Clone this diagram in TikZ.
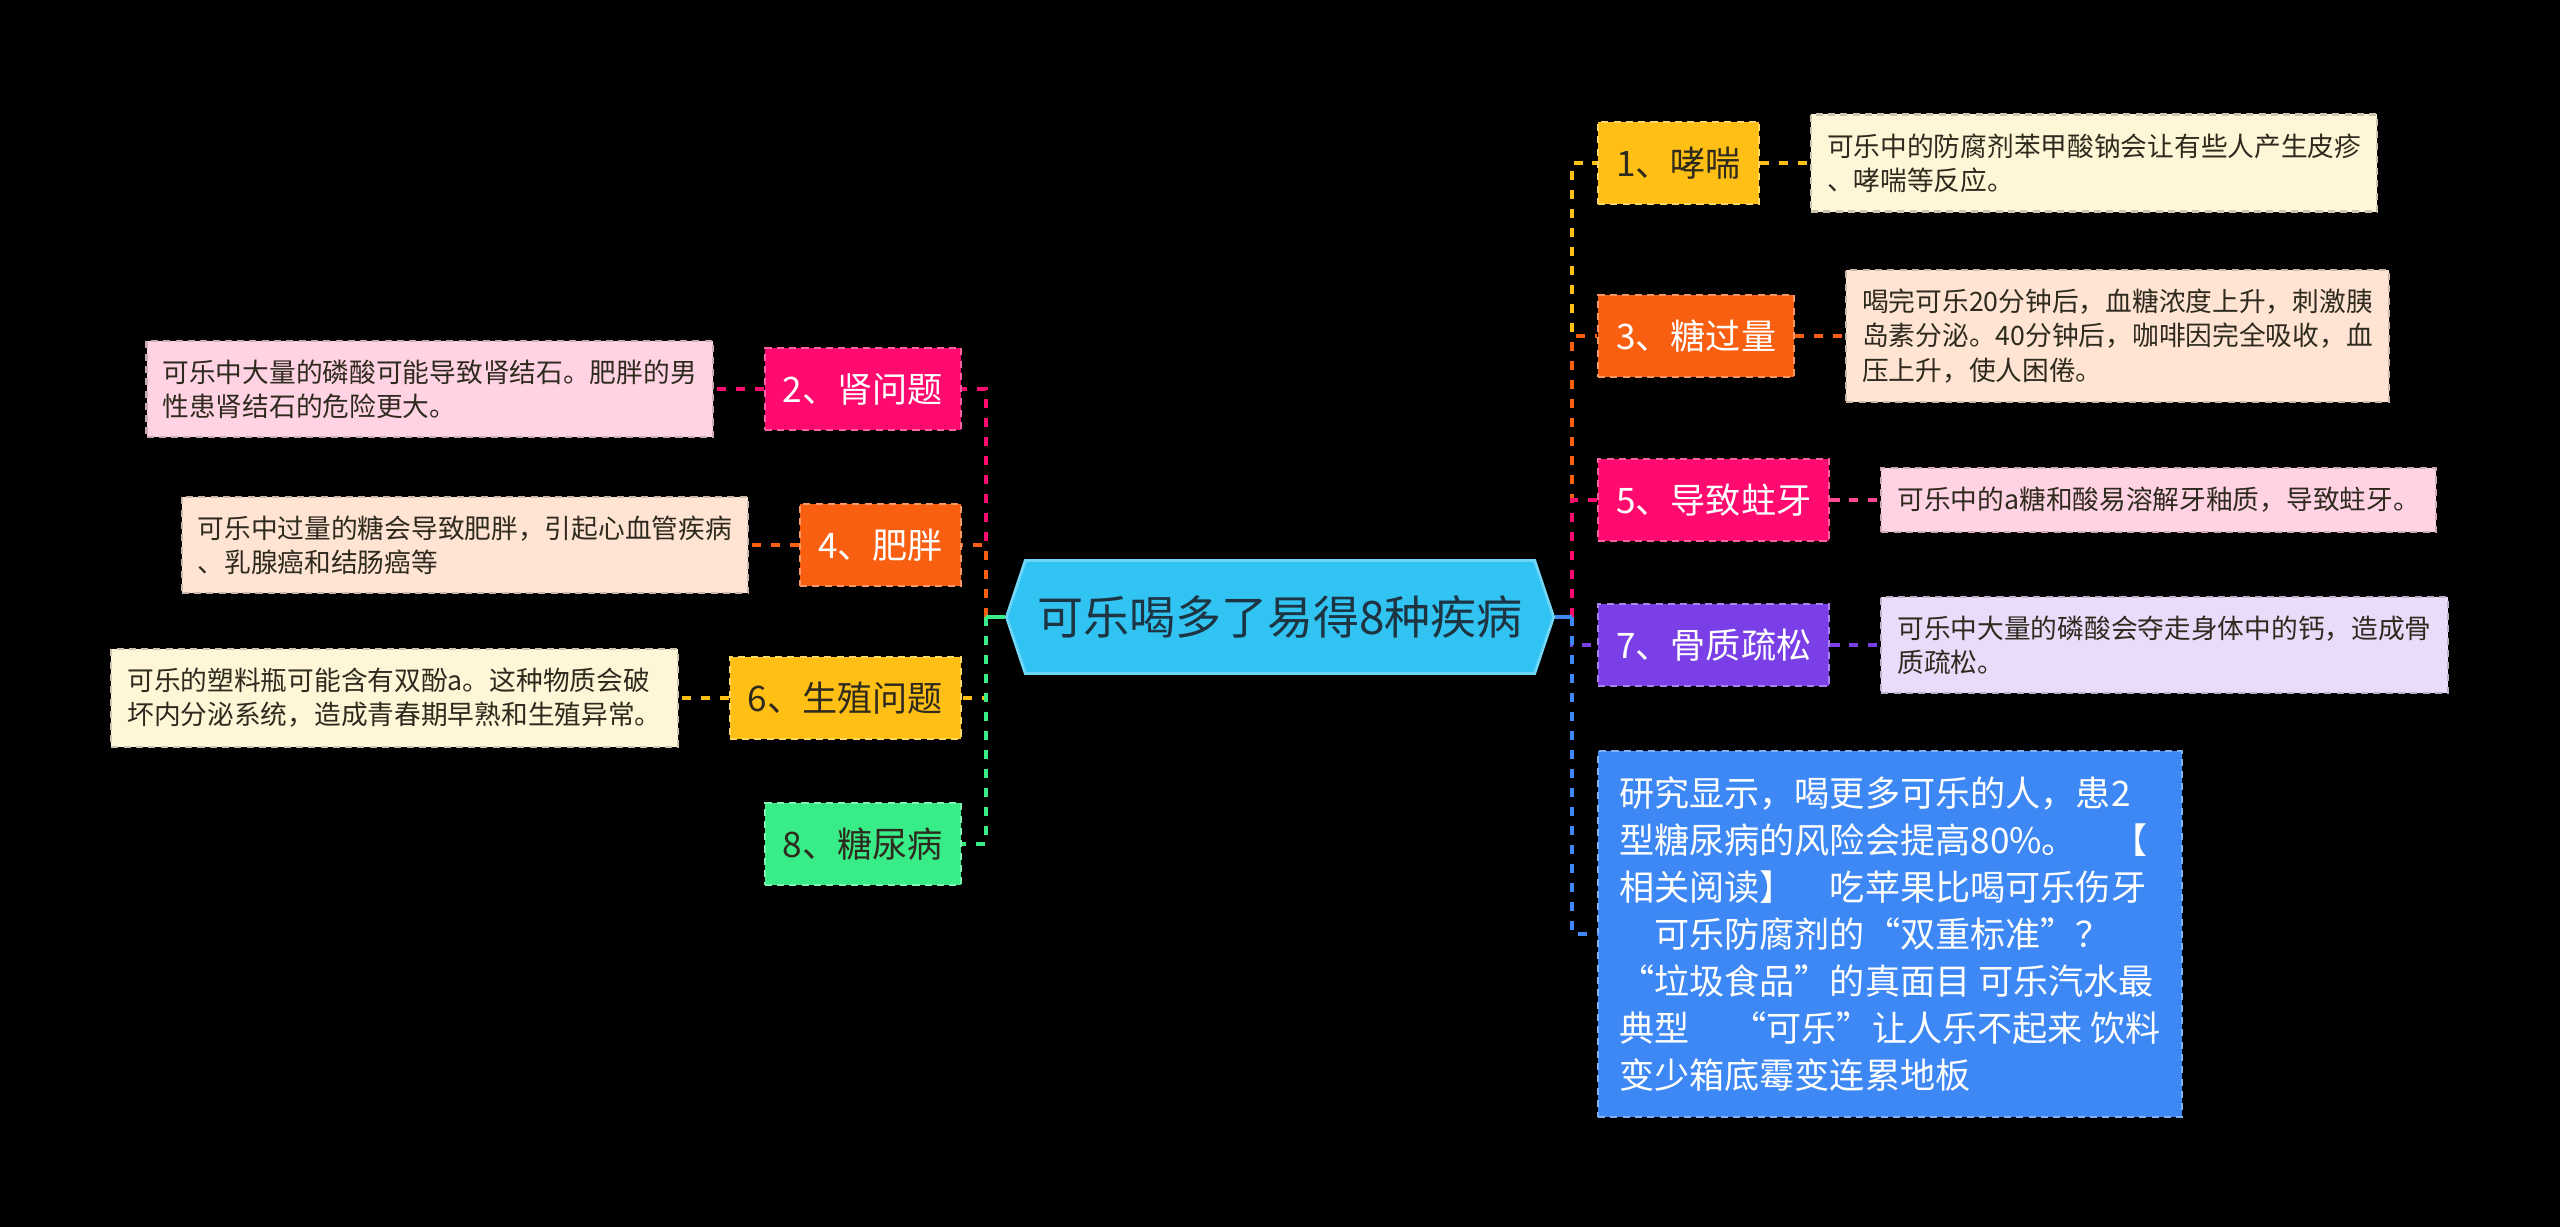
\documentclass[tikz,border=0pt]{standalone}
\usepackage{fontspec}
\setmainfont{Noto Sans CJK SC}
\usepackage{xcolor}
\usetikzlibrary{positioning, shapes.symbols}

\definecolor{rootcyan}{HTML}{31C4F3}
\definecolor{rootink}{HTML}{1D3442}
\definecolor{amber}{HTML}{FFBF14}
\definecolor{orange}{HTML}{F95F10}
\definecolor{rose}{HTML}{FF0A6E}
\definecolor{violet}{HTML}{7A3FE6}
\definecolor{bigblue}{HTML}{3D88F5}
\definecolor{mint}{HTML}{38EC88}
\definecolor{cream}{HTML}{FFF5D7}
\definecolor{peach}{HTML}{FFE4D4}
\definecolor{blush}{HTML}{FFD3E3}
\definecolor{lilac}{HTML}{E8DCFA}
\definecolor{darkink}{HTML}{2E2A1E}

\begin{document}
\begin{tikzpicture}[node distance=0.5cm,
cat/.style={rectangle, fill=#1, draw=#1!65!white, dash pattern=on 2pt off 1.5pt, line width=0.6pt, minimum height=0.82cm, inner xsep=0.18cm, font=\fontsize{10}{12}\selectfont},
desc/.style={rectangle, fill=#1, draw=#1!80!black, dash pattern=on 2pt off 1.5pt, line width=0.6pt, align=left, inner xsep=0.16cm, inner ysep=0.19cm, text=darkink, font=\fontsize{7.6}{9.7}\selectfont},
link/.style={line width=1.1pt, dash pattern=on 2.6pt off 2.8pt}]
    \fill[black] (0,0) rectangle (25.6,-12.27);
    \useasboundingbox (0,0) rectangle (25.6,-12.27);

    % centre
    \node (root) [signal, signal to=west and east, signal pointer angle=143, fill=rootcyan, draw=rootcyan!70!white, line width=0.8pt, minimum width=5.36cm, minimum height=1.13cm, text=rootink, font=\fontsize{13.1}{16}\selectfont] at (12.80,-6.17) {可乐喝多了易得8种疾病};
    \coordinate (rs) at (15.72,-6.17);
    \coordinate (ls) at (9.86,-6.17);

    % right side
    \node (c1) [cat=amber, text=darkink, anchor=west] at (15.97,-1.63) {1、哮喘};
    \node (c3) [cat=orange, text=white, anchor=west] at (15.97,-3.36) {3、糖过量};
    \node (c5) [cat=rose, text=white, anchor=west] at (15.97,-5.00) {5、导致蛀牙};
    \node (c7) [cat=violet, text=white, anchor=west] at (15.97,-6.45) {7、骨质疏松};
    \node (big) [cat=bigblue, text=white, anchor=west, align=left, inner xsep=0.21cm, inner ysep=0.25cm, font=\fontsize{10}{13.4}\selectfont] at (15.97,-9.34) {研究显示，喝更多可乐的人，患2\\型糖尿病的风险会提高80\%。\hspace{1em}【\\相关阅读】\hspace{1em}吃苹果比喝可乐伤牙\\\hspace*{1em}可乐防腐剂的“双重标准”？\\“垃圾食品”的真面目~可乐汽水最\\典型\hspace{1.2em}“可乐”让人乐不起来~饮料\\变少箱底霉变连累地板};

    \node (d1) [desc=cream, right=of c1] {可乐中的防腐剂苯甲酸钠会让有些人产生皮疹\\、哮喘等反应。};
    \node (d3) [desc=peach, right=of c3] {喝完可乐20分钟后，血糖浓度上升，刺激胰\\岛素分泌。40分钟后，咖啡因完全吸收，血\\压上升，使人困倦。};
    \node (d5) [desc=blush, right=of c5] {可乐中的a糖和酸易溶解牙釉质，导致蛀牙。};
    \node (d7) [desc=lilac, right=of c7] {可乐中大量的磷酸会夺走身体中的钙，造成骨\\质疏松。};

    % left side
    \node (c2) [cat=rose, text=white, anchor=east] at (9.62,-3.89) {2、肾问题};
    \node (c4) [cat=orange, text=white, anchor=east] at (9.62,-5.45) {4、肥胖};
    \node (c6) [cat=amber, text=darkink, anchor=east] at (9.62,-6.98) {6、生殖问题};
    \node (c8) [cat=mint, text=darkink, anchor=east] at (9.62,-8.44) {8、糖尿病};

    \node (d2) [desc=blush, left=of c2] {可乐中大量的磷酸可能导致肾结石。肥胖的男\\性患肾结石的危险更大。};
    \node (d4) [desc=peach, left=of c4] {可乐中过量的糖会导致肥胖，引起心血管疾病\\、乳腺癌和结肠癌等};
    \node (d6) [desc=cream, left=of c6] {可乐的塑料瓶可能含有双酚a。这种物质会破\\坏内分泌系统，造成青春期早熟和生殖异常。};

    % branches
    \draw[link, amber] (rs) |- (c1.west);
    \draw[link, orange] (rs) |- (c3.west);
    \draw[link, rose] (rs) |- (c5.west);
    \draw[link, violet] (rs) |- (c7.west);
    \draw[link, bigblue] (rs) |- (big.west);
    \draw[line width=1.1pt, bigblue] (root.east) -- (rs);

    \draw[link, rose] (ls) |- (c2.east);
    \draw[link, orange] (ls) |- (c4.east);
    \draw[link, amber] (ls) |- (c6.east);
    \draw[link, mint] (ls) |- (c8.east);
    \draw[line width=1.1pt, mint] (root.west) -- (ls);

    \draw[link, amber] (c1) -- (d1);
    \draw[link, orange] (c3) -- (d3);
    \draw[link, rose!75!white] (c5) -- (d5);
    \draw[link, violet] (c7) -- (d7);
    \draw[link, rose] (c2) -- (d2);
    \draw[link, orange] (c4) -- (d4);
    \draw[link, amber] (c6) -- (d6);
\end{tikzpicture}
\end{document}
